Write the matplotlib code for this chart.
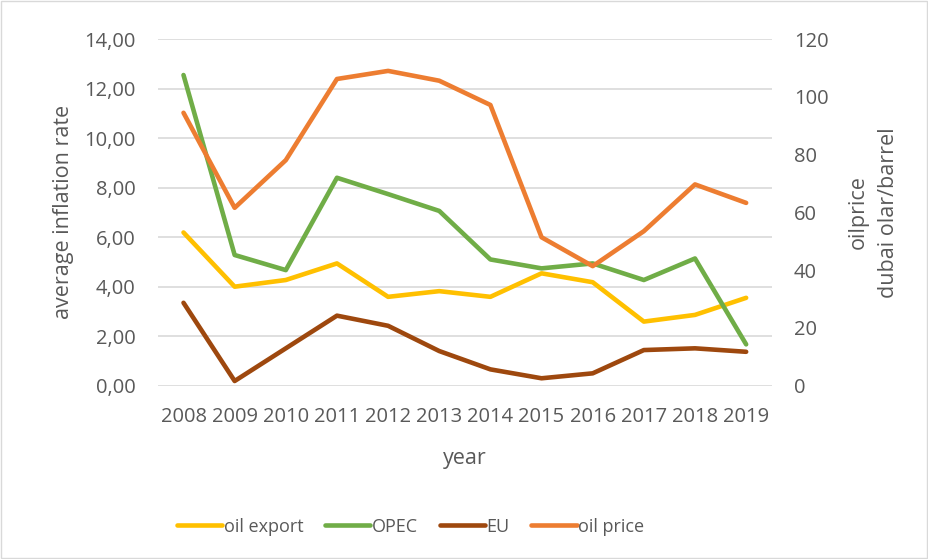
import numpy as np
import matplotlib.pyplot as plt
from matplotlib.ticker import FuncFormatter
from matplotlib.patches import Rectangle

years = ['2008', '2009', '2010', '2011', '2012', '2013', '2014', '2015', '2016', '2017', '2018', '2019']
oil_export = [6.19, 4.00, 4.27, 4.94, 3.59, 3.82, 3.59, 4.54, 4.18, 2.59, 2.86, 3.55]
opec = [12.55, 5.28, 4.67, 8.40, 7.74, 7.06, 5.10, 4.74, 4.94, 4.27, 5.14, 1.67]
eu = [3.35, 0.19, 1.51, 2.83, 2.42, 1.40, 0.66, 0.30, 0.50, 1.44, 1.51, 1.37]
oil_price = [94.5, 61.6, 78.1, 106.2, 109.0, 105.6, 97.2, 51.4, 41.4, 53.5, 69.7, 63.3]

txt = '#595959'
plt.rcParams['font.family'] = ['Open Sans', 'DejaVu Sans']

fig = plt.figure(figsize=(9.29, 5.59), dpi=100)
fig.patches.append(Rectangle((0.001, 0.002), 0.997, 0.996, transform=fig.transFigure,
                             fill=False, edgecolor='#d9d9d9', lw=1))
ax = fig.add_axes([0.170, 0.31, 0.6607, 0.620])
ax2 = ax.twinx()

x = np.arange(len(years))
lw = 3.3
l1, = ax.plot(x, oil_export, color='#FFC000', lw=lw, solid_capstyle='round', zorder=3)
l2, = ax.plot(x, opec, color='#70AD47', lw=lw, solid_capstyle='round', zorder=3)
l3, = ax.plot(x, eu, color='#9E480E', lw=lw, solid_capstyle='round', zorder=3)
l4, = ax2.plot(x, oil_price, color='#ED7D31', lw=lw, solid_capstyle='round', zorder=3)

ax.set_ylim(0, 14)
ax.set_yticks(np.arange(0, 15, 2))
ax.yaxis.set_major_formatter(FuncFormatter(lambda v, p: ('%.2f' % v).replace('.', ',')))
ax2.set_ylim(0, 120)
ax2.set_yticks(np.arange(0, 121, 20))
ax.set_xlim(-0.5, 11.5)
ax.set_xticks(x)
ax.set_xticklabels(years)

ax.grid(axis='y', color='#d9d9d9', lw=1.2)
ax.set_axisbelow(True)
for a in (ax, ax2):
    for s in a.spines.values():
        s.set_visible(False)
    a.tick_params(length=0, labelsize=14.5, labelcolor=txt)
ax.tick_params(axis='y', pad=16)
ax.tick_params(axis='x', pad=15)
ax2.tick_params(axis='y', pad=16)

ax.set_ylabel('average inflation rate', fontsize=15.5, color=txt)
ax.yaxis.set_label_coords(-0.136, 0.5)
ax.set_xlabel('year', fontsize=15.5, color=txt)
ax.xaxis.set_label_coords(0.5, -0.18)
ax2.set_ylabel('oilprice\ndubai olar/barrel', fontsize=15.5, color=txt, linespacing=1.6,
               rotation=90, va='center')
ax2.yaxis.set_label_coords(1.166, 0.5)

leg = fig.legend([l1, l2, l3, l4], ['oil export', 'OPEC', 'EU', 'oil price'],
                 loc='center', bbox_to_anchor=(0.442, 0.058), ncol=4, frameon=False,
                 fontsize=13, handlelength=2.5, handletextpad=0.1, columnspacing=1.2)
for t in leg.get_texts():
    t.set_color(txt)

plt.savefig('out.png', dpi=100)
